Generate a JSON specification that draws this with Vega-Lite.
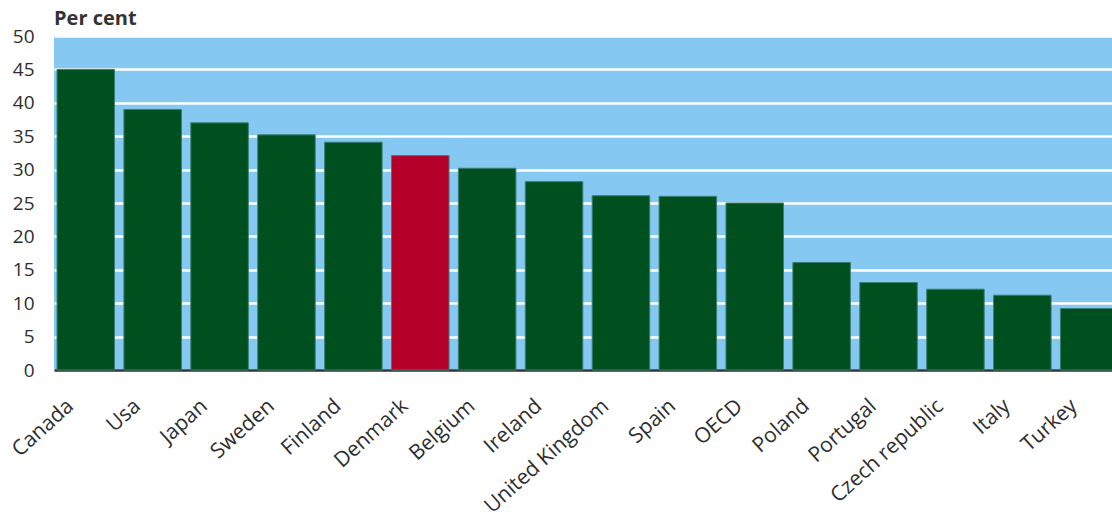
{
  "$schema": "https://vega.github.io/schema/vega-lite/v6.json",
  "autosize": {"type": "none"},
  "padding": {"left": 54, "top": 36, "right": 0, "bottom": 149},
  "width": 1067,
  "height": 334,
  "background": "white",
  "title": {
    "text": "Per cent",
    "anchor": "start",
    "frame": "group",
    "font": "Open Sans",
    "fontSize": 20,
    "fontWeight": "bold",
    "color": "#333333",
    "offset": -2
  },
  "config": {
    "view": {"fill": "#85C8F2", "stroke": null},
    "axis": {"labelFont": "Open Sans", "labelColor": "#2E2E2E"}
  },
  "data": {
    "values": [
      {"country": "Canada", "value": 45},
      {"country": "Usa", "value": 39},
      {"country": "Japan", "value": 37},
      {"country": "Sweden", "value": 35.2},
      {"country": "Finland", "value": 34.1},
      {"country": "Denmark", "value": 32.1},
      {"country": "Belgium", "value": 30.2},
      {"country": "Ireland", "value": 28.2},
      {"country": "United Kingdom", "value": 26.1},
      {"country": "Spain", "value": 26},
      {"country": "OECD", "value": 25},
      {"country": "Poland", "value": 16.1},
      {"country": "Portugal", "value": 13.1},
      {"country": "Czech republic", "value": 12.1},
      {"country": "Italy", "value": 11.2},
      {"country": "Turkey", "value": 9.2}
    ]
  },
  "mark": {"type": "bar", "stroke": "#3C7F74", "strokeWidth": 1},
  "encoding": {
    "x": {
      "field": "country",
      "type": "nominal",
      "sort": null,
      "scale": {"paddingInner": 0.14, "paddingOuter": 0.045},
      "axis": {
        "title": null,
        "labelAngle": -42,
        "labelAlign": "right",
        "labelBaseline": "middle",
        "labelFontSize": 21,
        "labelPadding": 33,
        "labelOffset": -15,
        "ticks": false,
        "domainColor": "#333333",
        "domainWidth": 2.5,
        "grid": false
      }
    },
    "y": {
      "field": "value",
      "type": "quantitative",
      "scale": {"domain": [0, 50], "nice": false},
      "axis": {
        "title": null,
        "values": [0, 5, 10, 15, 20, 25, 30, 35, 40, 45, 50],
        "labelFontSize": 19,
        "labelPadding": 20,
        "ticks": false,
        "domain": false,
        "gridColor": "white",
        "gridWidth": 2.5,
        "gridOpacity": 1
      }
    },
    "color": {
      "condition": {"test": "datum.country === 'Denmark'", "value": "#B5002A"},
      "value": "#00501F"
    }
  }
}
